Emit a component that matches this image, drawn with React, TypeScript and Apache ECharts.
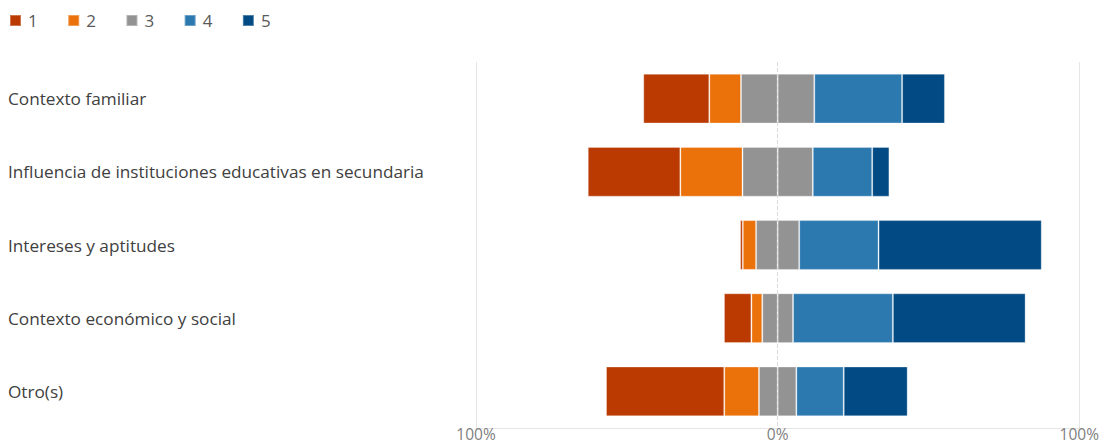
import React, { useEffect, useRef } from "react";
import * as echarts from "echarts";

const categories = [
  "Contexto familiar",
  "Influencia de instituciones educativas en secundaria",
  "Intereses y aptitudes",
  "Contexto económico y social",
  "Otro(s)",
];
const legendNames = ["1", "2", "3", "4", "5"];
const colors = ["#BA3A02", "#EB710A", "#939393", "#2C79B0", "#024A83"];
const v1 = [21.9, 30.7, 0.9, 9.1, 39.2];
const v2 = [10.5, 20.6, 4.4, 3.6, 11.5];
const v3 = [24.3, 23.3, 14.3, 10.2, 12.4];
const v4 = [29.1, 19.7, 26.3, 33.1, 15.7];
const v5 = [14.2, 5.7, 54.1, 44.0, 21.2];
const xTicks = [-100, 0, 100];

export default function App() {
  const ref = useRef<HTMLDivElement>(null);
  useEffect(() => {
    if (!ref.current) return;
    const chart = echarts.init(ref.current, null, { renderer: "svg" });
    const font = "'Open Sans', 'Noto Sans', sans-serif";
    const border = { borderColor: "rgba(255,255,255,0.3)", borderWidth: 1 };
    const mk = (name: string, data: number[], color: string) => ({
      name,
      type: "bar",
      stack: "total",
      barCategoryGap: "32%",
      z: 3,
      data,
      itemStyle: { color, ...border },
    });
    chart.setOption({
      animation: false,
      textStyle: { fontFamily: font },
      legend: {
        data: legendNames,
        left: 4,
        top: 7,
        icon: "rect",
        itemWidth: 11,
        itemHeight: 11,
        itemGap: 29.5,
        textStyle: { fontFamily: font, fontSize: 17, color: "#595959", padding: [0, 0, 0, 2] },
      },
      grid: { left: 476, right: 22, top: 62, bottom: 16, containLabel: false },
      xAxis: {
        type: "value",
        min: -100,
        max: 100,
        interval: 100,
        axisLine: { show: true, lineStyle: { color: "#e6e6e6" } },
        axisTick: { show: false },
        splitLine: { show: false },
        axisLabel: {
          margin: 0,
          fontSize: 15.5,
          lineHeight: 12,
          color: "#808080",
          fontFamily: font,
          formatter: (v: number) => Math.abs(v) + "%",
        },
      },
      yAxis: {
        type: "category",
        inverse: true,
        data: categories,
        axisLine: { show: false },
        axisTick: { show: false },
        axisLabel: {
          align: "left",
          margin: 468,
          fontSize: 17.2,
          color: "#404040",
          fontFamily: font,
        },
      },
      series: [
        {
          name: "grid",
          type: "line",
          data: [],
          z: 1,
          markLine: {
            silent: true,
            symbol: "none",
            label: { show: false },
            data: xTicks.map((x) => ({
              xAxis: x,
              lineStyle: {
                color: x === 0 ? "#dcdcdc" : "#e6e6e6",
                type: x === 0 ? "dashed" : "solid",
                width: 1,
              },
            })),
          },
        },
        mk("3", v3.map((v) => -v / 2), colors[2]),
        mk("2", v2.map((v) => -v), colors[1]),
        mk("1", v1.map((v) => -v), colors[0]),
        mk("3", v3.map((v) => v / 2), colors[2]),
        mk("4", v4, colors[3]),
        mk("5", v5, colors[4]),
      ],
    });
    return () => chart.dispose();
  }, []);
  return (
    <div
      ref={ref}
      style={{ position: "absolute", left: 0, top: 0, width: 1102, height: 444, overflow: "hidden" }}
    />
  );
}
